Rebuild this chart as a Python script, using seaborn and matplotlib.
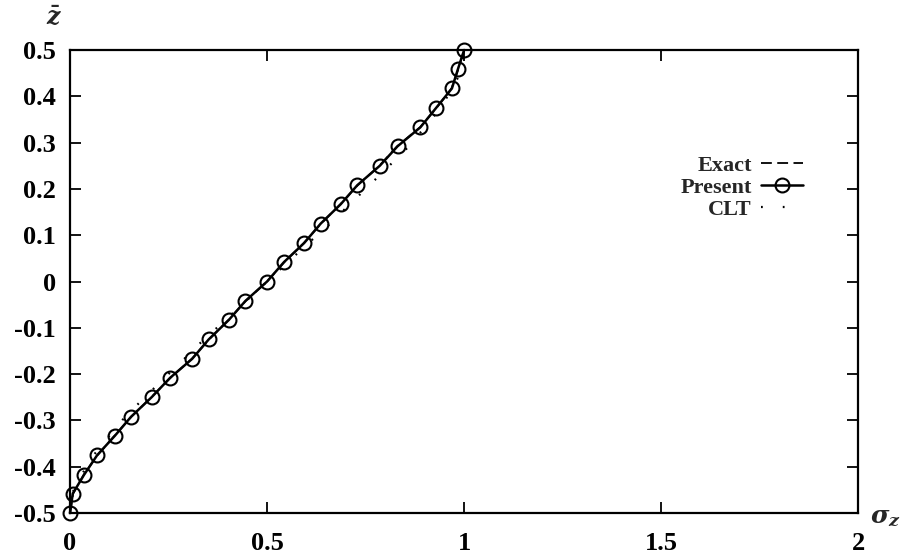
import numpy as np
import pandas as pd
import matplotlib
matplotlib.use("Agg")
import matplotlib.pyplot as plt
import seaborn as sns

# Thickness coordinate (normalised) and transverse normal stress profiles
z_bar = [-0.5, -0.458, -0.417, -0.375, -0.333, -0.292, -0.25, -0.208, -0.167,
         -0.125, -0.083, -0.042, 0.0, 0.042, 0.083, 0.125, 0.167, 0.208,
         0.25, 0.292, 0.333, 0.375, 0.417, 0.458, 0.5]
present_sz = [0.0, 0.007, 0.036, 0.069, 0.114, 0.155, 0.207, 0.254, 0.31,
              0.352, 0.403, 0.445, 0.5, 0.543, 0.594, 0.636, 0.687, 0.729,
              0.786, 0.831, 0.889, 0.929, 0.969, 0.984, 1.0]
exact_sz = [0.0, 0.008, 0.035, 0.07, 0.113, 0.156, 0.206, 0.255, 0.309,
            0.353, 0.402, 0.446, 0.5, 0.544, 0.593, 0.637, 0.686, 0.73,
            0.785, 0.83, 0.888, 0.93, 0.968, 0.985, 1.0]
clt_sz = [0.0, 0.005, 0.03, 0.06, 0.1, 0.14, 0.19, 0.24, 0.29, 0.34, 0.395,
          0.447, 0.5, 0.553, 0.605, 0.66, 0.71, 0.76, 0.81, 0.86, 0.9, 0.94,
          0.97, 0.995, 1.0]

x_ticks = [0, 0.5, 1, 1.5, 2]
x_tick_labels = ["0", "0.5", "1", "1.5", "2"]
y_ticks = [0.5, 0.4, 0.3, 0.2, 0.1, 0, -0.1, -0.2, -0.3, -0.4, -0.5]
y_tick_labels = ["0.5", "0.4", "0.3", "0.2", "0.1", "0", "-0.1", "-0.2",
                 "-0.3", "-0.4", "-0.5"]

sns.set_style("ticks")
plt.rcParams["font.family"] = ["Liberation Serif", "DejaVu Serif"]
plt.rcParams["font.weight"] = "bold"
plt.rcParams["mathtext.fontset"] = "dejavuserif"

df_exact = pd.DataFrame({"sz": exact_sz, "z": z_bar})
df_present = pd.DataFrame({"sz": present_sz, "z": z_bar})
df_clt = pd.DataFrame({"sz": clt_sz, "z": z_bar})

fig = plt.figure(figsize=(9.15, 5.58), dpi=100)
ax = fig.add_axes([0.0765, 0.0806, 0.8615, 0.8298])

sns.lineplot(data=df_exact, x="sz", y="z", sort=False, ax=ax, color="black",
             linewidth=1.3, linestyle=(0, (6, 3)), label="Exact")
sns.lineplot(data=df_present, x="sz", y="z", sort=False, ax=ax, color="black",
             linewidth=1.8, marker="o", markersize=10, markerfacecolor="none",
             markeredgecolor="black", markeredgewidth=1.5, label="Present",
             clip_on=False)
sns.lineplot(data=df_clt, x="sz", y="z", sort=False, ax=ax, color="black",
             linewidth=1.6, linestyle=(0, (0.8, 9)), label="CLT")

ax.set_xlim(0, 2)
ax.set_ylim(-0.5, 0.5)
ax.set_xticks(x_ticks)
ax.set_xticklabels(x_tick_labels)
ax.set_yticks(y_ticks)
ax.set_yticklabels(y_tick_labels)
ax.set_xlabel("")
ax.set_ylabel("")
for s in ax.spines.values():
    s.set_visible(True)
    s.set_linewidth(1.6)
    s.set_color("black")
ax.tick_params(axis="both", which="major", direction="in", length=8, width=1.3,
               top=True, right=True, labelsize=19, colors="black")
ax.tick_params(axis="x", pad=14)
ax.tick_params(axis="y", pad=10)

ax.text(-0.02, 1.07, r"$\bar{z}$", transform=ax.transAxes, fontsize=17,
        ha="center", va="center")
ax.text(1.015, -0.01, r"$\sigma_z$", transform=ax.transAxes, fontsize=18,
        ha="left", va="center")

leg = ax.legend(loc="upper right", bbox_to_anchor=(0.955, 0.815), frameon=False,
                markerfirst=False, fontsize=16, handlelength=1.9,
                handletextpad=0.4, labelspacing=0.05)
for t in leg.get_texts():
    t.set_ha("right")

fig.savefig("out.png", dpi=100)
